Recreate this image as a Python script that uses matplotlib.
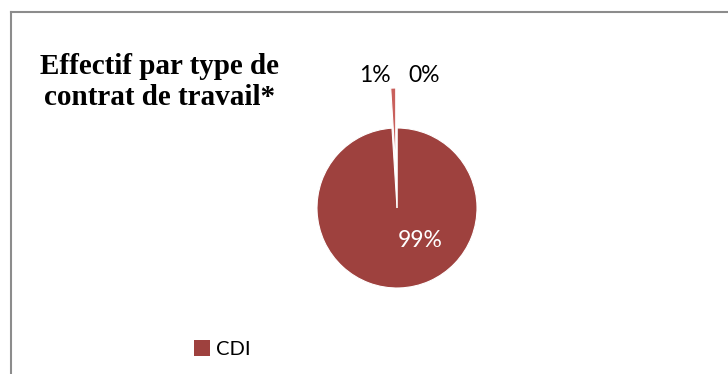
import numpy as np
import matplotlib.pyplot as plt
from matplotlib.lines import Line2D
from matplotlib.patches import Patch

# data
categories = ["CDI", "CDD", "Autre"]
shares = [99, 1, 0]
explode = [0.0, 0.5, 0.0]
colors = ["#9E413E", "#C9605C", "#D98A86"]

W, H = 728, 374
fig = plt.figure(figsize=(W / 100, H / 100), dpi=100)
fig.patch.set_facecolor("white")

# chart frame (only top and left edges show in the crop)
fig.add_artist(Line2D([10.5 / W, 10.5 / W], [0, 1 - 11.5 / H], color="#8c8c8c", lw=1.5))
fig.add_artist(Line2D([10.5 / W, 1], [1 - 11.5 / H, 1 - 11.5 / H], color="#8c8c8c", lw=1.5))

# pie axes: center (397, 208), radius 80 px
cx, cy, r = 397, 208, 80
ax = fig.add_axes([(cx - r) / W, (H - cy - r) / H, 2 * r / W, 2 * r / H])
wedges, _ = ax.pie(shares, explode=explode, colors=colors, startangle=90,
                   counterclock=False, radius=1,
                   wedgeprops=dict(edgecolor="white", linewidth=0.8))
for w in wedges:
    w.set_clip_on(False)
wedges[1].set_zorder(3)
ax.set_xlim(-1, 1)
ax.set_ylim(-1, 1)
ax.set_aspect("equal")
ax.axis("off")

# percentage labels
font = ["Lato", "DejaVu Sans"]
label_pos = [(0.29, -0.41), (-0.28, 1.65), (0.34, 1.65)]
label_col = ["white", "black", "black"]
for val, (lx, ly), col in zip(shares, label_pos, label_col):
    ax.text(lx, ly, str(val) + "%", ha="center", va="center", color=col,
            fontsize=16.5, family=font)

# title
fig.text(160 / W, 1 - 82 / H, "Effectif par type de\ncontrat de travail*",
         ha="center", va="center", fontsize=21, fontweight="bold",
         family=["Liberation Serif", "DejaVu Serif"], linespacing=1.15)

# legend (only first category shown)
fig.legend(handles=[Patch(facecolor=colors[0])], labels=[categories[0]],
           loc="center left", bbox_to_anchor=(194 / W, 1 - 349 / H),
           frameon=False, handlelength=0.8, handleheight=0.8,
           handletextpad=0.3, borderpad=0, borderaxespad=0,
           prop=dict(family=font, size=14.5))

fig.savefig("out.png", dpi=100)
